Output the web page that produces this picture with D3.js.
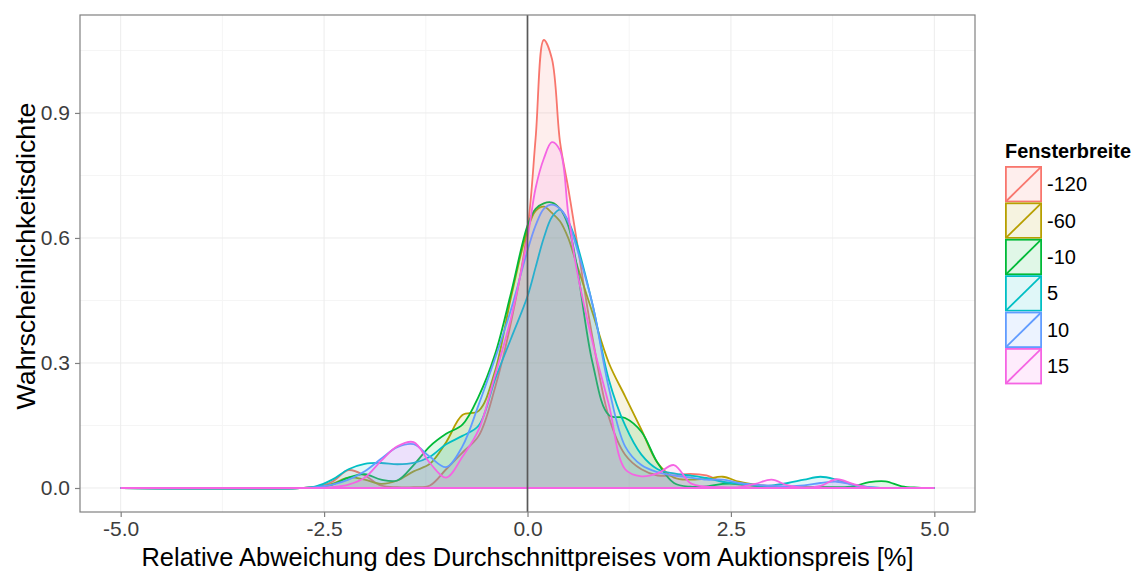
<!DOCTYPE html>
<html>
<head>
<meta charset="utf-8">
<script src="https://cdn.jsdelivr.net/npm/d3@7"></script>
<style>
  body { margin: 0; background: #fff; }
  svg { font-family: "Liberation Sans", Arial, sans-serif; }
</style>
</head>
<body>
<div id="chart-container"></div>
<script>
// x positions (relative deviation in %) at which the density values were read
var xGrid = [-5, -2.8, -2.6, -2.4, -2.2, -2.0, -1.8, -1.6, -1.4, -1.2, -1.0, -0.8, -0.6, -0.4, -0.2,
    0, 0.1, 0.2, 0.3, 0.4, 0.5, 0.6, 0.8, 1.0, 1.2, 1.4, 1.6, 1.8, 2.0, 2.2, 2.4, 2.6, 2.8,
    3.0, 3.2, 3.4, 3.6, 3.8, 4.0, 4.2, 4.4, 4.6, 4.8, 5];

var seriesNames = ["-120", "-60", "-10", "5", "10", "15"];

var densM120 = [0, 0, 0.003, 0.015, 0.043, 0.03, 0.006, 0.002, 0.002, 0.006, 0.045, 0.085, 0.125, 0.24, 0.4,
    0.62, 0.84, 1.075, 1.03, 0.83, 0.72, 0.6, 0.36, 0.17, 0.08, 0.045, 0.03, 0.03, 0.034, 0.03, 0.015, 0.008, 0.005,
    0.003, 0.002, 0.002, 0.002, 0.001, 0, 0, 0, 0, 0, 0];
var densM60 = [0, 0, 0.002, 0.01, 0.025, 0.02, 0.01, 0.018, 0.04, 0.058, 0.11, 0.175, 0.185, 0.28, 0.46,
    0.62, 0.665, 0.675, 0.66, 0.64, 0.6, 0.54, 0.42, 0.3, 0.22, 0.14, 0.06, 0.025, 0.02, 0.022, 0.027, 0.015, 0.008,
    0.004, 0.002, 0.001, 0, 0, 0, 0, 0, 0, 0, 0];
var densM10 = [0, 0, 0.002, 0.008, 0.025, 0.033, 0.02, 0.018, 0.055, 0.1, 0.13, 0.152, 0.22, 0.32, 0.47,
    0.63, 0.67, 0.683, 0.685, 0.67, 0.63, 0.54, 0.3, 0.175, 0.168, 0.135, 0.06, 0.012, 0.003, 0.004, 0.01, 0.01, 0.005,
    0.002, 0.001, 0.001, 0.002, 0.002, 0.004, 0.014, 0.016, 0.004, 0.001, 0];
var densP5 = [0, 0, 0.004, 0.02, 0.045, 0.058, 0.06, 0.057, 0.06, 0.075, 0.105, 0.125, 0.15, 0.26, 0.36,
    0.46, 0.53, 0.6, 0.65, 0.668, 0.64, 0.59, 0.44, 0.26, 0.15, 0.08, 0.045, 0.035, 0.03, 0.024, 0.015, 0.01, 0.006,
    0.006, 0.012, 0.02, 0.027, 0.02, 0.008, 0.002, 0, 0, 0, 0];
var densP10 = [0, 0, 0.002, 0.008, 0.02, 0.04, 0.07, 0.098, 0.105, 0.075, 0.05, 0.1, 0.2, 0.31, 0.43,
    0.57, 0.63, 0.67, 0.68, 0.67, 0.64, 0.58, 0.44, 0.24, 0.1, 0.055, 0.038, 0.03, 0.025, 0.02, 0.02, 0.012, 0.008,
    0.005, 0.004, 0.006, 0.012, 0.015, 0.008, 0.002, 0, 0, 0, 0];
var densP15 = [0, 0, 0, 0.002, 0.008, 0.025, 0.065, 0.1, 0.11, 0.06, 0.025, 0.075, 0.14, 0.27, 0.41,
    0.6, 0.72, 0.79, 0.83, 0.81, 0.66, 0.53, 0.35, 0.2, 0.045, 0.028, 0.035, 0.055, 0.012, 0.003, 0.002, 0.002, 0.01,
    0.02, 0.006, 0.001, 0.005, 0.021, 0.01, 0.001, 0, 0, 0, 0];

var seriesValues = [densM120, densM60, densM10, densP5, densP10, densP15];

var xTicks = [-5, -2.5, 0, 2.5, 5];
var xMinor = [-3.75, -1.25, 1.25, 3.75];
var yTicks = [0, 0.3, 0.6, 0.9];
var yMinor = [0.15, 0.45, 0.75, 1.05];

var colors = ["#F8766D", "#B79F00", "#00BA38", "#00BFC4", "#619CFF", "#F564E3"];

var settings = {
    w: 1134,
    h: 572,
    left: 80,
    top: 15,
    right: 975,
    bottom: 512,
    fillOpacity: 0.12,
    lineWidth: 1.8
};

var svg = d3.select("#chart-container").append("svg")
    .attr("width", settings.w).attr("height", settings.h);

var xScale = d3.scaleLinear().domain([-5.5, 5.5]).range([settings.left, settings.right]);
var yScale = d3.scaleLinear().domain([-0.0576, 1.135]).range([settings.bottom, settings.top]);

// grid
var grid = svg.append("g");
grid.selectAll(".vminor").data(xMinor).enter().append("line")
    .attr("x1", xScale).attr("x2", xScale)
    .attr("y1", settings.top).attr("y2", settings.bottom)
    .attr("stroke", "#f5f5f5").attr("stroke-width", 1);
grid.selectAll(".hminor").data(yMinor).enter().append("line")
    .attr("y1", yScale).attr("y2", yScale)
    .attr("x1", settings.left).attr("x2", settings.right)
    .attr("stroke", "#f5f5f5").attr("stroke-width", 1);
grid.selectAll(".vmajor").data(xTicks).enter().append("line")
    .attr("x1", xScale).attr("x2", xScale)
    .attr("y1", settings.top).attr("y2", settings.bottom)
    .attr("stroke", "#ececec").attr("stroke-width", 1);
grid.selectAll(".hmajor").data(yTicks).enter().append("line")
    .attr("y1", yScale).attr("y2", yScale)
    .attr("x1", settings.left).attr("x2", settings.right)
    .attr("stroke", "#ececec").attr("stroke-width", 1);

// densities
var curve = d3.curveCatmullRom.alpha(0.5);

var area = d3.area()
    .x(function(d) { return xScale(d[0]); })
    .y0(yScale(0))
    .y1(function(d) { return yScale(Math.max(0, d[1])); })
    .curve(curve);

var line = d3.line()
    .x(function(d) { return xScale(d[0]); })
    .y(function(d) { return yScale(d[1]); })
    .curve(curve);

var dens = svg.append("g");
seriesValues.forEach(function(vals, i) {
    var pts = xGrid.map(function(x, j) { return [x, vals[j]]; });
    dens.append("path")
        .attr("d", area(pts))
        .attr("fill", colors[i])
        .attr("fill-opacity", settings.fillOpacity);
    dens.append("path")
        .attr("d", line(pts))
        .attr("fill", "none")
        .attr("stroke", colors[i])
        .attr("stroke-width", settings.lineWidth);
    dens.append("line")
        .attr("x1", xScale(xGrid[0])).attr("x2", xScale(xGrid[xGrid.length - 1]))
        .attr("y1", yScale(0)).attr("y2", yScale(0))
        .attr("stroke", colors[i]).attr("stroke-width", settings.lineWidth);
});

// vertical reference line at 0
svg.append("line")
    .attr("x1", xScale(0)).attr("x2", xScale(0))
    .attr("y1", settings.top).attr("y2", settings.bottom)
    .attr("stroke", "#595959").attr("stroke-width", 1.7);

// panel border
svg.append("rect")
    .attr("x", settings.left).attr("y", settings.top)
    .attr("width", settings.right - settings.left).attr("height", settings.bottom - settings.top)
    .attr("fill", "none").attr("stroke", "#808080").attr("stroke-width", 1.2);

// axes
var xAxis = d3.axisBottom(xScale).tickValues(xTicks).tickSize(5).tickPadding(4);
var yAxis = d3.axisLeft(yScale).tickValues(yTicks).tickSize(5).tickPadding(5);

var gx = svg.append("g")
    .attr("transform", "translate(0," + settings.bottom + ")")
    .call(xAxis);
var gy = svg.append("g")
    .attr("transform", "translate(" + settings.left + ",0)")
    .call(yAxis);

[gx, gy].forEach(function(g) {
    g.select(".domain").remove();
    g.selectAll(".tick line").attr("stroke", "#808080").attr("stroke-width", 1.2);
    g.selectAll(".tick text")
        .attr("fill", "#3d3d3d")
        .style("font-size", "21px")
        .style("font-family", "'Liberation Sans', Arial, sans-serif")
        .text(function(d) { return d.toFixed(1); });
});

// axis titles
svg.append("text")
    .attr("x", (settings.left + settings.right) / 2)
    .attr("y", 566)
    .attr("text-anchor", "middle")
    .attr("textLength", 772)
    .attr("lengthAdjust", "spacingAndGlyphs")
    .style("font-size", "25px")
    .text("Relative Abweichung des Durchschnittpreises vom Auktionspreis [%]");

svg.append("text")
    .attr("transform", "translate(35," + 256 + ") rotate(-90)")
    .attr("text-anchor", "middle")
    .attr("textLength", 307)
    .attr("lengthAdjust", "spacingAndGlyphs")
    .style("font-size", "25px")
    .text("Wahrscheinlichkeitsdichte");

// legend
var legend = svg.append("g").attr("transform", "translate(1005,0)");
legend.append("text")
    .attr("x", 0).attr("y", 158)
    .attr("textLength", 126)
    .attr("lengthAdjust", "spacingAndGlyphs")
    .style("font-size", "20px")
    .style("font-weight", "bold")
    .text("Fensterbreite");

var keyH = 36.4, keyW = 37, keyTop = 166;
var keys = legend.selectAll(".key").data(seriesNames).enter().append("g")
    .attr("transform", function(d, i) { return "translate(0," + (keyTop + i * keyH) + ")"; });
keys.append("rect")
    .attr("width", keyW).attr("height", keyH)
    .attr("fill", "#fff");
keys.append("rect")
    .attr("x", 0.9).attr("y", 0.9)
    .attr("width", keyW - 1.8).attr("height", keyH - 1.8)
    .attr("fill", function(d, i) { return colors[i]; })
    .attr("fill-opacity", settings.fillOpacity)
    .attr("stroke", function(d, i) { return colors[i]; })
    .attr("stroke-width", settings.lineWidth);
keys.append("line")
    .attr("x1", 0.9).attr("y1", keyH - 0.9)
    .attr("x2", keyW - 0.9).attr("y2", 0.9)
    .attr("stroke", function(d, i) { return colors[i]; })
    .attr("stroke-width", settings.lineWidth);
keys.append("text")
    .attr("x", keyW + 5).attr("y", keyH / 2)
    .attr("dominant-baseline", "central")
    .style("font-size", "20px")
    .text(function(d) { return d; });
</script>
</body>
</html>
